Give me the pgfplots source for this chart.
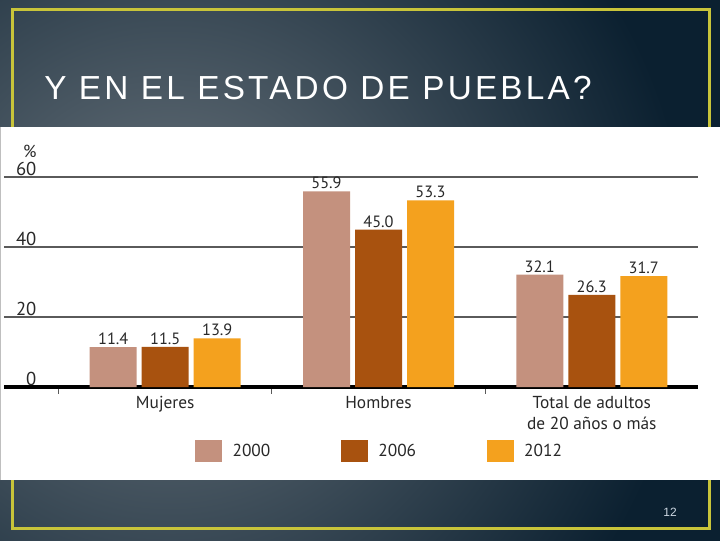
\documentclass[border=0pt]{standalone}
\usepackage{pgfplots}
\pgfplotsset{compat=1.18}
\usepackage{fontspec}
\setmainfont{PT Sans}
\newfontfamily\titlefont[LetterSpace=9.6]{Liberation Sans}
\newfontfamily\arialfont{Liberation Sans}
\definecolor{c2000}{RGB}{196,145,126}
\definecolor{c2006}{RGB}{168,82,15}
\definecolor{c2012}{RGB}{244,161,30}
\definecolor{navy}{RGB}{11,32,48}
\definecolor{slate}{RGB}{108,118,126}
\definecolor{bordercol}{RGB}{200,196,58}
\definecolor{txt}{RGB}{40,40,40}
\definecolor{gridcol}{RGB}{90,90,90}
\definecolor{pagenum}{RGB}{205,215,225}
\pgfplotsset{myleg/.style={legend image code/.code={\fill[##1] (0pt,-8.25pt) rectangle (20pt,8.25pt); \path (26pt,0pt);}}}
\begin{document}
\begin{tikzpicture}[x=0.75pt,y=0.75pt]
\useasboundingbox (0,0) rectangle (720,540);
\begin{scope}
\clip (-3,-3) rectangle (723,543);
\fill[navy] (-3,-3) rectangle (723,543);
\shade[inner color=slate, outer color=navy] (170,270) circle (520);
\end{scope}
\draw[bordercol, line width=2.25pt] (12,12) rectangle (709,530);
\node[anchor=base west, inner sep=0pt, text=white, font=\titlefont\fontsize{25}{30}\selectfont] at (44,440) {Y EN EL ESTADO DE PUEBLA?};
\fill[white] (0,60) rectangle (722,413);
\draw[gray!50, line width=0.75pt] (0.4,60) -- (0.4,413);
\node[text=pagenum, font=\arialfont\fontsize{9}{11}\selectfont, inner sep=0pt] at (670,28) {12};
\begin{axis}[
  at={(3pt,114.75pt)}, anchor=south west,
  width=520.5pt, height=157.5pt, scale only axis,
  ybar=3.75pt, bar width=35.25pt,
  xmin=-0.756, xmax=2.498, ymin=0, ymax=60,
  axis x line*=bottom, axis y line*=left,
  y axis line style={draw=none},
  x axis line style={line width=3pt, black, -},
  xtick={0,1,2},
  xticklabels={Mujeres, Hombres, {Total de adultos\\de 20 años o más}},
  minor xtick={-0.5,0.5,1.5,2.5},
  major tick length=0pt, minor tick length=5pt,
  tick align=outside,
  minor x tick style={gridcol, line width=0.75pt},
  ytick={0,20,40,60},
  ymajorgrids, grid style={gridcol, line width=0.9pt},
  major y tick style={draw=none},
  /pgf/number format/assume math mode=true,
  xticklabel style={font=\fontsize{13}{15.75}\selectfont, text=txt, align=center, inner sep=0pt, yshift=-6.5pt},
  yticklabel style={font=\fontsize{14}{16}\selectfont, text=txt, anchor=south east, inner sep=1pt, xshift=25.5pt},
  nodes near coords,
  every node near coord/.append style={font=\fontsize{12.25}{14}\selectfont, text=txt, inner sep=1.5pt},
  nodes near coords style={/pgf/number format/.cd, fixed, fixed zerofill, precision=1, assume math mode=true},
  clip=false,
  legend style={at={(0.2752,-0.305)}, anchor=west, draw=none, fill=none, inner sep=0pt,
    font=\fontsize{13}{15}\selectfont, text=txt, legend columns=3,
    /tikz/every even column/.append style={column sep=51pt}},
  legend cell align=left,
]
\addplot[fill=c2000, draw=none, myleg] coordinates {(0,11.4) (1,55.9) (2,32.1)};
\addplot[fill=c2006, draw=none, myleg] coordinates {(0,11.5) (1,45.0) (2,26.3)};
\addplot[fill=c2012, draw=none, myleg] coordinates {(0,13.9) (1,53.3) (2,31.7)};
\legend{2000,2006,2012}
\node[anchor=south east, inner sep=1pt, text=txt, font=\fontsize{13}{15}\selectfont] at (axis cs:-0.756,60) [xshift=25.5pt, yshift=13pt] {\%};
\end{axis}
\end{tikzpicture}
\end{document}
